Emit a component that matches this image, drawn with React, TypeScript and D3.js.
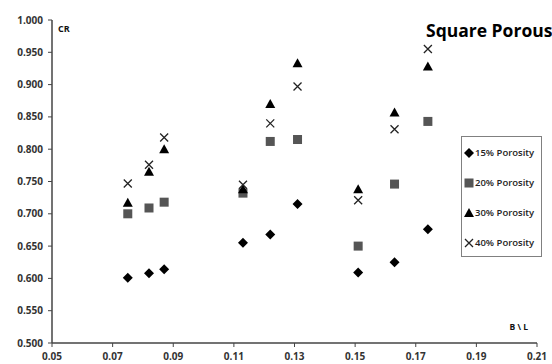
import React from "react";
import * as d3 from "d3";

const series = ["15% Porosity", "20% Porosity", "30% Porosity", "40% Porosity"];
const xValues = [0.075, 0.082, 0.087, 0.113, 0.122, 0.131, 0.151, 0.163, 0.174];
const p15 = [0.601, 0.608, 0.614, 0.655, 0.668, 0.715, 0.609, 0.625, 0.676];
const p20 = [0.700, 0.709, 0.718, 0.732, 0.812, 0.815, 0.650, 0.746, 0.843];
const p30 = [0.717, 0.765, 0.800, 0.738, 0.870, 0.933, 0.738, 0.857, 0.928];
const p40 = [0.747, 0.776, 0.818, 0.745, 0.840, 0.897, 0.721, 0.831, 0.955];
const xTicks = [0.05, 0.07, 0.09, 0.11, 0.13, 0.15, 0.17, 0.19, 0.21];
const yTicks = [0.5, 0.55, 0.6, 0.65, 0.7, 0.75, 0.8, 0.85, 0.9, 0.95, 1.0];

const W = 552, H = 364;
const font = "'Open Sans', 'DejaVu Sans', sans-serif";

function Marker({ type, x, y }: { type: number; x: number; y: number }) {
  if (type === 0) {
    const s = 5;
    return <path d={`M${x},${y - s}L${x + s},${y}L${x},${y + s}L${x - s},${y}Z`} fill="#000" />;
  }
  if (type === 1) {
    const s = 4.5;
    return <rect x={x - s} y={y - s} width={2 * s} height={2 * s} fill="#555" />;
  }
  if (type === 2) {
    const s = 5;
    return <path d={`M${x},${y - s}L${x + s},${y + s * 0.8}L${x - s},${y + s * 0.8}Z`} fill="#000" />;
  }
  const s = 4;
  return (
    <path d={`M${x - s},${y - s}L${x + s},${y + s}M${x + s},${y - s}L${x - s},${y + s}`} stroke="#222" strokeWidth={1.3} fill="none" />
  );
}

export default function App() {
  const x = d3.scaleLinear().domain([0.05, 0.21]).range([52, 537]);
  const y = d3.scaleLinear().domain([0.5, 1.0]).range([343, 20]);
  const data = [p15, p20, p30, p40];
  const axisColor = "#444";
  const legY = [153, 183, 213, 243];
  return (
    <svg width={W} height={H} style={{ position: "absolute", left: 0, top: 0 }} fontFamily={font}>
      <rect width={W} height={H} fill="#fff" />
      <line x1={x(0.05)} x2={x(0.05)} y1={y(1.0)} y2={y(0.5)} stroke={axisColor} strokeWidth={1.5} />
      <line x1={x(0.05)} x2={x(0.21)} y1={y(0.5)} y2={y(0.5)} stroke={axisColor} strokeWidth={1.5} />
      {yTicks.map((t) => (
        <g key={"y" + t}>
          <line x1={x(0.05) - 4} x2={x(0.05)} y1={y(t)} y2={y(t)} stroke={axisColor} strokeWidth={1} />
          <text x={x(0.05) - 9} y={y(t)} dy="0.35em" textAnchor="end" fontSize={10} fontWeight={700} fill="#333">
            {d3.format(".3f")(t)}
          </text>
        </g>
      ))}
      {xTicks.map((t) => (
        <g key={"x" + t}>
          <line x1={x(t)} x2={x(t)} y1={y(0.5)} y2={y(0.5) + 4} stroke={axisColor} strokeWidth={1} />
          <text x={x(t)} y={y(0.5) + 17} textAnchor="middle" fontSize={10} fontWeight={700} fill="#333">
            {d3.format(".2f")(t)}
          </text>
        </g>
      ))}
      <text x={58} y={32} fontSize={9} fontWeight={700} fill="#111">CR</text>
      <text x={528} y={330} textAnchor="end" fontSize={8.5} fontWeight={700} fill="#111">B \ L</text>
      <text x={426} y={37} fontSize={17.5} fontWeight={700} fill="#000">Square Porous</text>
      {data.map((arr, si) =>
        arr.map((v, i) => <Marker key={si + "-" + i} type={si} x={x(xValues[i])} y={y(v)} />)
      )}
      <rect x={461.5} y={136.5} width={80} height={120} fill="#fff" stroke="#808080" strokeWidth={1} />
      {series.map((s, i) => (
        <g key={s}>
          <Marker type={i} x={469} y={legY[i]} />
          <text x={475} y={legY[i]} dy="0.35em" fontSize={9.5} fontWeight={600} fill="#222">{s}</text>
        </g>
      ))}
    </svg>
  );
}
